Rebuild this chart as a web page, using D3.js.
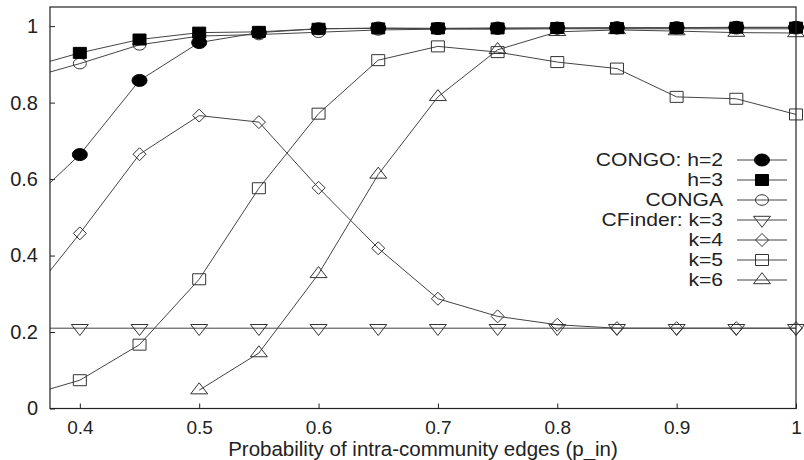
<!DOCTYPE html>
<html>
<head>
<meta charset="utf-8">
<script src="https://cdn.jsdelivr.net/npm/d3@7"></script>
<style>
  body { margin: 0; background: #fff; }
  text { font-family: "Liberation Sans", Arial, sans-serif; fill: #222; }
</style>
</head>
<body>
<div id="chart"></div>
<script>
// values
var pIn = [0.35, 0.4, 0.45, 0.5, 0.55, 0.6, 0.65, 0.7, 0.75, 0.8, 0.85, 0.9, 0.95, 1.0];

var congoH2 = [0.516, 0.664, 0.858, 0.957, 0.983, 0.993, 0.995, 0.994, 0.995, 0.995, 0.996, 0.996, 0.997, 0.997];
var congoH3 = [0.886, 0.930, 0.965, 0.983, 0.985, 0.993, 0.994, 0.994, 0.994, 0.995, 0.995, 0.995, 0.996, 0.996];
var conga   = [0.858, 0.902, 0.951, 0.974, 0.978, 0.984, 0.990, 0.992, 0.992, 0.993, 0.993, 0.993, 0.993, 0.993];
var cfK3    = [0.21, 0.21, 0.21, 0.21, 0.21, 0.21, 0.21, 0.21, 0.21, 0.21, 0.21, 0.21, 0.21, 0.21];
var cfK4    = [0.262, 0.458, 0.665, 0.766, 0.749, 0.577, 0.419, 0.287, 0.241, 0.219, 0.210, 0.210, 0.210, 0.210];
var cfK5    = [0.028, 0.074, 0.167, 0.338, 0.576, 0.771, 0.911, 0.947, 0.932, 0.906, 0.889, 0.815, 0.810, 0.769];
var cfK6    = [null, null, null, 0.048, 0.145, 0.352, 0.612, 0.815, 0.938, 0.985, 0.990, 0.987, 0.983, 0.982];

var xTicks = [0.4, 0.5, 0.6, 0.7, 0.8, 0.9, 1];
var yTicks = [0, 0.2, 0.4, 0.6, 0.8, 1];

var seriesNames = ["CONGO: h=2", "h=3", "CONGA", "CFinder: k=3", "k=4", "k=5", "k=6"];
var seriesValues = [congoH2, congoH3, conga, cfK3, cfK4, cfK5, cfK6];
var seriesMarkers = ["fcircle", "fsquare", "ocircle", "dtri", "diamond", "osquare", "utri"];

var W = 804, H = 460;
var margin = {top: 7, right: 8, bottom: 51.5, left: 50};
var width = W - margin.left - margin.right,
    height = H - margin.top - margin.bottom;

var svg = d3.select("#chart").append("svg")
    .attr("width", W).attr("height", H);
var g = svg.append("g")
    .attr("transform", "translate(" + margin.left + "," + margin.top + ")");

var x = d3.scaleLinear().domain([0.375, 1]).range([0, width]);
var y = d3.scaleLinear().domain([0, 1.05]).range([height, 0]);

svg.append("defs").append("clipPath").attr("id", "plotclip")
  .append("rect").attr("width", width).attr("height", height);

// marker shapes (picture is stretched a little sideways)
function markerPath(type) {
    switch (type) {
        case "fcircle": return "M-7.5,0a7.5,6 0 1,0 15,0a7.5,6 0 1,0 -15,0Z";
        case "ocircle": return "M-6.5,0a6.5,5.3 0 1,0 13,0a6.5,5.3 0 1,0 -13,0Z";
        case "fsquare":
        case "osquare": return "M-6.5,-5.5H6.5V5.5H-6.5Z";
        case "diamond": return "M0,-6.5L6.5,0L0,6.5L-6.5,0Z";
        case "utri": return "M0,-7.3L8.5,3.7L-8.5,3.7Z";
        case "dtri": return "M0,7.3L8.5,-3.7L-8.5,-3.7Z";
    }
}
function isFilled(type) { return type == "fcircle" || type == "fsquare"; }

function drawMarker(sel, type) {
    sel.append("path")
        .attr("d", markerPath(type))
        .attr("fill", isFilled(type) ? "#000" : "#fff")
        .attr("fill-opacity", isFilled(type) ? 1 : 0)
        .attr("stroke", isFilled(type) ? "#000" : "#333")
        .attr("stroke-width", 1);
}

// axis ticks (gnuplot style, pointing inward)
g.append("g")
    .attr("transform", "translate(0," + height + ")")
    .call(d3.axisBottom(x).tickValues(xTicks).tickSize(-5).tickPadding(12).tickFormat(d3.format("")))
    .call(function(a) {
        a.select(".domain").remove();
        a.selectAll("line").attr("stroke", "#222");
        a.selectAll("text").attr("font-size", "19px").attr("dy", "0.71em")
            .attr("font-family", "Liberation Sans, Arial, sans-serif").attr("fill", "#222");
    });
g.append("g")
    .call(d3.axisLeft(y).tickValues(yTicks).tickSize(-5).tickPadding(12).tickFormat(d3.format("")))
    .call(function(a) {
        a.select(".domain").remove();
        a.selectAll("line").attr("stroke", "#222");
        a.selectAll("text").attr("font-size", "20px")
            .attr("font-family", "Liberation Sans, Arial, sans-serif").attr("fill", "#222");
    });

// series lines
var line = d3.line()
    .defined(function(d) { return d[1] != null; })
    .x(function(d) { return x(d[0]); })
    .y(function(d) { return y(d[1]); });

var linesG = g.append("g").attr("clip-path", "url(#plotclip)");
seriesValues.forEach(function(vals) {
    var pts = pIn.map(function(p, i) { return [p, vals[i]]; });
    linesG.append("path")
        .attr("d", line(pts))
        .attr("fill", "none")
        .attr("stroke", "#444")
        .attr("stroke-width", 1);
});

// series markers, drawn last series first so CONGO sits on top
for (var s = seriesValues.length - 1; s >= 0; s--) {
    var vals = seriesValues[s];
    pIn.forEach(function(p, i) {
        if (vals[i] == null || p < x.domain()[0]) return;
        var m = g.append("g").attr("transform", "translate(" + x(p) + "," + y(vals[i]) + ")");
        drawMarker(m, seriesMarkers[s]);
    });
}

// frame
g.append("rect")
    .attr("width", width).attr("height", height)
    .attr("fill", "none").attr("stroke", "#222").attr("stroke-width", 1.2);

// legend (text squeezed vertically so rows 20px apart don't collide)
var legend = svg.append("g").attr("transform", "translate(723,160)");
seriesNames.forEach(function(name, i) {
    var row = legend.append("g").attr("transform", "translate(0," + (i * 20) + ")");
    row.append("text")
        .attr("transform", "scale(1.2,1)")
        .attr("text-anchor", "end")
        .attr("dy", "0.36em")
        .attr("font-size", "17.6px")
        .text(name);
    row.append("line")
        .attr("x1", 14).attr("x2", 64)
        .attr("stroke", "#444").attr("stroke-width", 1);
    var m = row.append("g").attr("transform", "translate(39,0)");
    drawMarker(m, seriesMarkers[i]);
});

// x axis title
svg.append("text")
    .attr("x", margin.left + width / 2)
    .attr("y", 456)
    .attr("text-anchor", "middle")
    .attr("font-size", "20.5px")
    .text("Probability of intra-community edges (p_in)");
</script>
</body>
</html>
